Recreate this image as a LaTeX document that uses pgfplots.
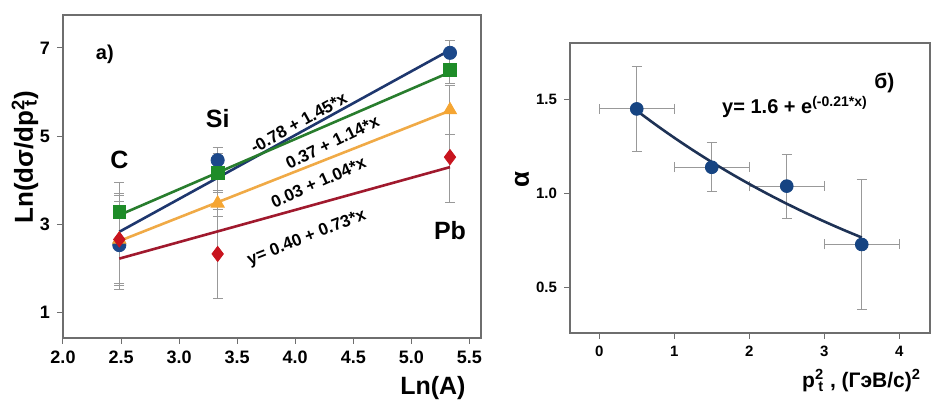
\documentclass[border=0pt]{standalone}
\usepackage{fontspec}
\setmainfont{Liberation Sans}
\usepackage{pgfplots}
\pgfplotsset{compat=1.18}
\definecolor{cblue}{RGB}{28,72,138}
\definecolor{lblue}{RGB}{30,55,110}
\definecolor{cgreen}{RGB}{30,140,40}
\definecolor{lgreen}{RGB}{40,125,45}
\definecolor{corange}{RGB}{245,165,50}
\definecolor{lorange}{RGB}{240,170,70}
\definecolor{cred}{RGB}{200,20,30}
\definecolor{lred}{RGB}{160,25,45}
\definecolor{rblue}{RGB}{22,68,130}
\definecolor{rline}{RGB}{30,50,85}
\definecolor{frame}{RGB}{110,110,110}
\begin{document}
\begin{tikzpicture}[x=1pt,y=1pt]
\useasboundingbox (0,0) rectangle (469,200.5);
\pgfplotsset{
  every axis/.append style={
    scale only axis, anchor=south west,
    axis line style={frame, line width=0.7pt},
    tick align=outside, tick pos=left,
    major tick style={frame, line width=0.5pt},
    major tick length=3pt,
    /pgf/number format/assume math mode=true,
  },
  ebar/.style={forget plot, draw=none, mark=none,
    error bars/.cd, y dir=both, y explicit,
    error bar style={gray!80, line width=0.5pt},
    error mark options={gray!80, line width=0.5pt, mark size=2.5pt, rotate=90}},
}
% ---------------- left panel ----------------
\begin{axis}[at={(31.5pt,31.5pt)}, width=209pt, height=161.5pt,
  xmin=2, xmax=5.6, ymin=0.41, ymax=7.75,
  xtick={2,2.5,3,3.5,4,4.5,5,5.5}, ytick={1,3,5,7},
  ticklabel style={font=\bfseries\fontsize{9}{9}\selectfont},
  xticklabel style={/pgf/number format/.cd, fixed, fixed zerofill, precision=1},
  clip=false]
% error bars
\addplot+[ebar] coordinates {(2.4849,2.52) +- (0,1.0) (3.332,4.45) +- (0,0.3) (5.333,6.89) +- (0,0.27)};
\addplot+[ebar] coordinates {(2.4849,3.27) +- (0,0.68) (3.332,4.16) +- (0,0.45) (5.333,6.50) +- (0,0.3)};
\addplot+[ebar] coordinates {(2.4849,2.65) +- (0,1.0) (3.332,3.47) +- (0,0.3) (5.333,5.59) +- (0,0.55)};
\addplot+[ebar] coordinates {(2.4849,2.65) +- (0,1.05) (3.332,2.32) +- (0,1.02) (5.333,4.52) +- (0,1.02)};
% fit lines
\addplot[lred, line width=1.3pt] coordinates {(2.4849,2.214) (5.333,4.293)};
\addplot[lorange, line width=1.3pt] coordinates {(2.4849,2.614) (5.333,5.576)};
\addplot[lblue, line width=1.3pt] coordinates {(2.4849,2.823) (5.333,6.953)};
\addplot[lgreen, line width=1.3pt] coordinates {(2.4849,3.203) (5.333,6.450)};
% markers
\addplot[only marks, mark=*, mark size=3.3pt, color=cblue] coordinates {(2.4849,2.52) (3.332,4.45) (5.333,6.89)};
\addplot[only marks, mark=triangle*, mark size=3.8pt, color=corange] coordinates {(2.4849,2.65) (3.332,3.47) (5.333,5.59)};
\addplot[only marks, mark=diamond*, mark size=3.8pt, color=cred] coordinates {(2.4849,2.65) (3.332,2.32) (5.333,4.52)};
\addplot[only marks, mark=square*, mark size=3.2pt, color=cgreen] coordinates {(2.4849,3.27) (3.332,4.16) (5.333,6.50)};
% texts
\node[font=\bfseries\fontsize{12.5}{12.5}\selectfont] at (axis cs:2.4849,4.45) {C};
\node[font=\bfseries\fontsize{12.5}{12.5}\selectfont] at (axis cs:3.332,5.40) {Si};
\node[font=\bfseries\fontsize{12.5}{12.5}\selectfont] at (axis cs:5.333,2.86) {Pb};
\node[font=\bfseries\fontsize{10}{10}\selectfont] at (axis cs:2.36,6.85) {a)};
\node[font=\bfseries\fontsize{8.5}{8.5}\selectfont, rotate=29] at (axis cs:4.03,5.30) {-0.78 + 1.45*x};
\node[font=\bfseries\fontsize{8.5}{8.5}\selectfont, rotate=26] at (axis cs:4.32,4.86) {0.37 + 1.14*x};
\node[font=\bfseries\fontsize{8.5}{8.5}\selectfont, rotate=24] at (axis cs:4.20,3.95) {0.03 + 1.04*x};
\node[font=\bfseries\fontsize{8.5}{8.5}\selectfont, rotate=21.5] at (axis cs:4.10,2.68) {y= 0.40 + 0.73*x};
\node[font=\bfseries\fontsize{13}{13}\selectfont, rotate=90] at (rel axis cs:-0.091,0.56) {Ln(dσ/dp\textsuperscript{2}\llap{\textsubscript{t}})};
\node[font=\bfseries\fontsize{12.5}{12.5}\selectfont] at (rel axis cs:0.885,-0.155) {Ln(A)};
\end{axis}
% ---------------- right panel ----------------
\begin{axis}[at={(285pt,34pt)}, width=180pt, height=145pt,
  xmin=-0.39, xmax=4.41, ymin=0.26, ymax=1.80,
  xtick={0,1,2,3,4}, ytick={0.5,1.0,1.5},
  ticklabel style={font=\bfseries\fontsize{7.5}{7.5}\selectfont},
  yticklabel style={/pgf/number format/.cd, fixed, fixed zerofill, precision=1},
  clip=false]
\addplot[forget plot, draw=none, mark=none,
  error bars/.cd, x dir=both, x explicit, y dir=both, y explicit,
  error bar style={gray!80, line width=0.5pt},
  error mark options={gray!80, line width=0.5pt, mark size=2.5pt, rotate=90}]
  coordinates {(0.5,1.45) +- (0.5,0.225) (1.5,1.14) +- (0.5,0.13) (2.5,1.04) +- (0.5,0.17) (3.5,0.73) +- (0.5,0.345)};
\addplot[rline, line width=1.3pt, smooth] coordinates {
 (0.5,1.4405) (0.75,1.3669) (1.0,1.2970) (1.25,1.2306) (1.5,1.1677) (1.75,1.1080)
 (2.0,1.0513) (2.25,0.9975) (2.5,0.9465) (2.75,0.8981) (3.0,0.8522) (3.25,0.8086) (3.5,0.7672)};
\addplot[only marks, mark=*, mark size=3.2pt, color=rblue] coordinates {(0.5,1.45) (1.5,1.14) (2.5,1.04) (3.5,0.73)};
\node[font=\bfseries\fontsize{10}{10}\selectfont] at (axis cs:2.61,1.46) {y= 1.6 + e\textsuperscript{(-0.21*x)}};
\node[font=\bfseries\fontsize{10.5}{10.5}\selectfont] at (axis cs:3.80,1.59) {б)};
\node[font=\bfseries\fontsize{13}{13}\selectfont, rotate=90] at (rel axis cs:-0.133,0.528) {α};
\node[font=\bfseries\fontsize{10.5}{10.5}\selectfont] at (rel axis cs:0.81,-0.165) {p\textsuperscript{2}\llap{\textsubscript{t}} , (ГэВ/с)\textsuperscript{2}};
\end{axis}
\end{tikzpicture}
\end{document}
